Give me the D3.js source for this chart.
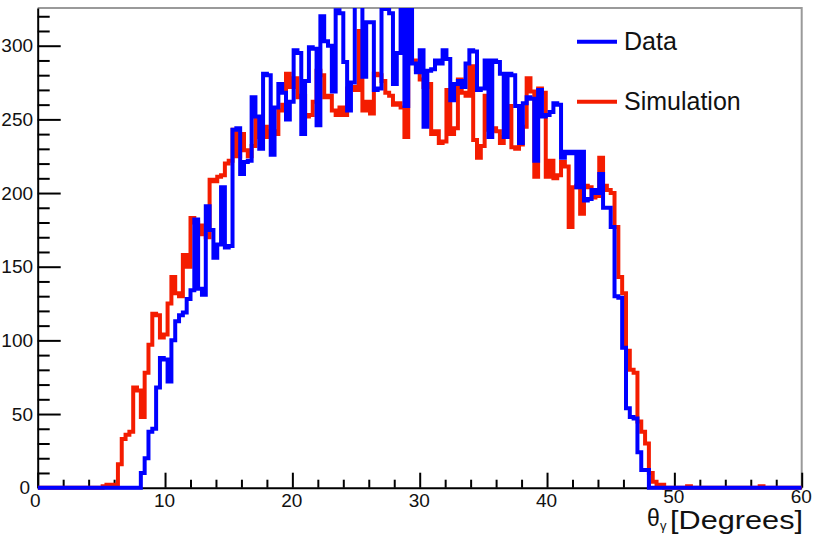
<!DOCTYPE html>
<html>
<head>
<meta charset="utf-8">
<script src="https://cdn.jsdelivr.net/npm/d3@7/dist/d3.min.js"></script>
<style>
  html, body { margin: 0; padding: 0; background: #fff; }
  svg { display: block; }
  text { font-family: "Liberation Sans", Arial, Helvetica, sans-serif; fill: #111; }
</style>
</head>
<body>
<svg id="chart" width="824" height="535"></svg>
<script>
// Histogram binning: 200 bins of 0.3 degrees over 0-60
const binWidth = 0.3;
const nBins = 200;

// Measured photon angle distribution (counts per bin), starting at bin 27
const dataFirstBin = 27;
const dataCounts = [
  10, 20, 38, 40, 68, 88, 87, 72, 100, 113, 117, 119, 128, 134, 182, 135, 131, 191, 175, 156,
  165, 204, 163, 164, 243, 244, 213, 221, 222, 265, 252, 230, 281, 280, 226, 258, 274, 268, 250, 262,
  297, 295, 240, 276, 299, 298, 246, 320, 303, 300, 269, 324, 322, 289, 256, 275, 330, 328, 279, 316,
  316, 270, 271, 325, 330, 322, 274, 295, 330, 259, 330, 288, 282, 297, 245, 283, 284, 290, 288, 297,
  291, 263, 274, 276, 272, 288, 297, 296, 270, 271, 290, 238, 290, 289, 281, 238, 281, 280, 259, 234,
  261, 265, 264, 222, 270, 252, 253, 255, 261, 260, 224, 228, 227, 228, 204, 228, 195, 196, 202, 200,
  213, 190, 190, 177, 130, 129, 95, 54, 48, 47, 24, 12, 12
];

// Simulated distribution (counts per bin), starting at bin 17
const simFirstBin = 17;
const simCounts = [
  1, 2, 1, 2, 16, 33, 36, 38, 68, 66, 48, 78, 97, 118, 117, 102, 104, 125, 143, 132,
  130, 158, 150, 183, 180, 178, 172, 170, 209, 208, 211, 212, 220, 222, 243, 225, 240, 229, 225, 232,
  250, 238, 245, 238, 242, 240, 256, 260, 281, 272, 278, 265, 266, 252, 253, 262, 283, 280, 265, 266,
  256, 253, 258, 253, 271, 272, 270, 310, 256, 262, 254, 281, 280, 276, 268, 266, 260, 261, 258, 238,
  291, 290, 284, 277, 272, 274, 240, 242, 234, 235, 270, 240, 244, 277, 268, 266, 286, 236, 224, 232,
  266, 243, 244, 242, 234, 238, 259, 231, 230, 233, 245, 278, 269, 211, 271, 268, 211, 222, 210, 212,
  221, 218, 177, 204, 205, 186, 205, 204, 197, 198, 224, 205, 202, 200, 177, 143, 132, 93, 80, 78,
  45, 38, 30, 10, 4, 2, 2
];
// Isolated single entries in the simulated tail: [bin, count]
const simStray = [[170, 1], [189, 1]];

// Axis ticks and labels
const xMajorTicks = [0, 10, 20, 30, 40, 50, 60];
const xMinorTicks = [2, 4, 6, 8, 12, 14, 16, 18, 22, 24, 26, 28, 32, 34, 36, 38, 42, 44, 46, 48, 52, 54, 56, 58];
const yMajorTicks = [0, 50, 100, 150, 200, 250, 300];
const yMinorTicks = [10, 20, 30, 40, 60, 70, 80, 90, 110, 120, 130, 140, 160, 170, 180, 190,
                     210, 220, 230, 240, 260, 270, 280, 290, 310, 320];
const xDomain = [0, 60];
const yDomain = [0, 325.6];

const legendLabels = ["Data", "Simulation"];
const seriesColors = ["#0000ff", "#f41c00"];

// ---- layout ----
const frame = { left: 37.7, right: 801.7, top: 8, bottom: 487.7 };
const svg = d3.select("#chart");

const x = d3.scaleLinear().domain(xDomain).range([frame.left, frame.right]);
const y = d3.scaleLinear().domain(yDomain).range([frame.bottom, frame.top]);

// expand a partial count list into full per-bin arrays
function fullBins(first, counts, extra) {
  const arr = new Array(nBins).fill(0);
  counts.forEach((c, k) => { arr[first + k] = c; });
  (extra || []).forEach(([b, c]) => { arr[b] = c; });
  return arr;
}
const dataBins = fullBins(dataFirstBin, dataCounts);
const simBins = fullBins(simFirstBin, simCounts, simStray);

// frame (top and right sides)
svg.append("path")
  .attr("d", `M${frame.left},${frame.top}H${frame.right}V${frame.bottom}`)
  .attr("fill", "none").attr("stroke", "#9a9a9a").attr("stroke-width", 2);

// y axis: ticks point into the frame
const yAxis = svg.append("g").attr("transform", `translate(${frame.left},0)`)
  .call(d3.axisLeft(y).tickValues(yMajorTicks).tickSizeInner(-23).tickSizeOuter(0)
    .tickPadding(4.7).tickFormat(d3.format("d")));
yAxis.select(".domain").attr("stroke", "#000").attr("stroke-width", 2);
yAxis.selectAll(".tick line").attr("stroke", "#000").attr("stroke-width", 2);
yAxis.selectAll(".tick text").attr("font-size", 19).attr("font-family", null).attr("fill", "#111")
  .attr("dx", d => d === 0 ? -3 : 0);

const yMinor = svg.append("g").attr("transform", `translate(${frame.left},0)`)
  .call(d3.axisLeft(y).tickValues(yMinorTicks).tickSizeInner(-12).tickSizeOuter(0).tickFormat(""));
yMinor.select(".domain").remove();
yMinor.selectAll(".tick line").attr("stroke", "#000").attr("stroke-width", 2);

// x axis
const xAxis = svg.append("g").attr("transform", `translate(0,${frame.bottom})`)
  .call(d3.axisBottom(x).tickValues(xMajorTicks).tickSizeInner(-15).tickSizeOuter(0)
    .tickPadding(6).tickFormat(d3.format("d")));
xAxis.select(".domain").attr("stroke", "#000").attr("stroke-width", 2);
xAxis.selectAll(".tick line").attr("stroke", "#000").attr("stroke-width", 2);
xAxis.selectAll(".tick text").attr("font-size", 19).attr("font-family", null).attr("fill", "#111")
  .attr("dx", d => d === 0 ? -3 : -1)
  .attr("y", d => d >= 50 ? 2 : 6);

const xMinor = svg.append("g").attr("transform", `translate(0,${frame.bottom})`)
  .call(d3.axisBottom(x).tickValues(xMinorTicks).tickSizeInner(-8).tickSizeOuter(0).tickFormat(""));
xMinor.select(".domain").remove();
xMinor.selectAll(".tick line").attr("stroke", "#000").attr("stroke-width", 2);

// clip histograms at the top of the frame
svg.append("clipPath").attr("id", "plotClip")
  .append("rect").attr("x", frame.left).attr("y", frame.top)
  .attr("width", frame.right - frame.left).attr("height", frame.bottom - frame.top + 12);

// step outline of a histogram
const step = d3.line().x(d => x(d[0])).y(d => y(d[1])).curve(d3.curveStepAfter);
function histPoints(bins) {
  const pts = bins.map((c, i) => [i * binWidth, c]);
  pts.push([nBins * binWidth, bins[nBins - 1]]);
  return pts;
}

const plot = svg.append("g").attr("clip-path", "url(#plotClip)");
[simBins, dataBins].forEach((bins, k) => {
  plot.append("path")
    .attr("d", step(histPoints(bins)))
    .attr("fill", "none")
    .attr("stroke", k === 0 ? seriesColors[1] : seriesColors[0])
    .attr("stroke-width", 4)
    .attr("stroke-linejoin", "miter");
});

// legend
const legend = svg.append("g");
legendLabels.forEach((lab, i) => {
  const ly = 41.7 + i * 60;
  legend.append("line")
    .attr("x1", 577).attr("x2", 617).attr("y1", ly).attr("y2", ly)
    .attr("stroke", seriesColors[i]).attr("stroke-width", 4);
  legend.append("text").attr("x", 624).attr("y", ly + 8.5)
    .attr("font-size", 25).text(lab);
});

// x axis title: theta_gamma [Degrees]
const title = svg.append("g");
title.append("text").attr("x", 647).attr("y", 526).attr("font-size", 23).text("θ");
title.append("text").attr("x", 660).attr("y", 530).attr("font-size", 13).text("γ");
title.append("text").attr("x", 670).attr("y", 529).attr("font-size", 25)
  .attr("textLength", 133).attr("lengthAdjust", "spacingAndGlyphs").text("[Degrees]");
</script>
</body>
</html>
